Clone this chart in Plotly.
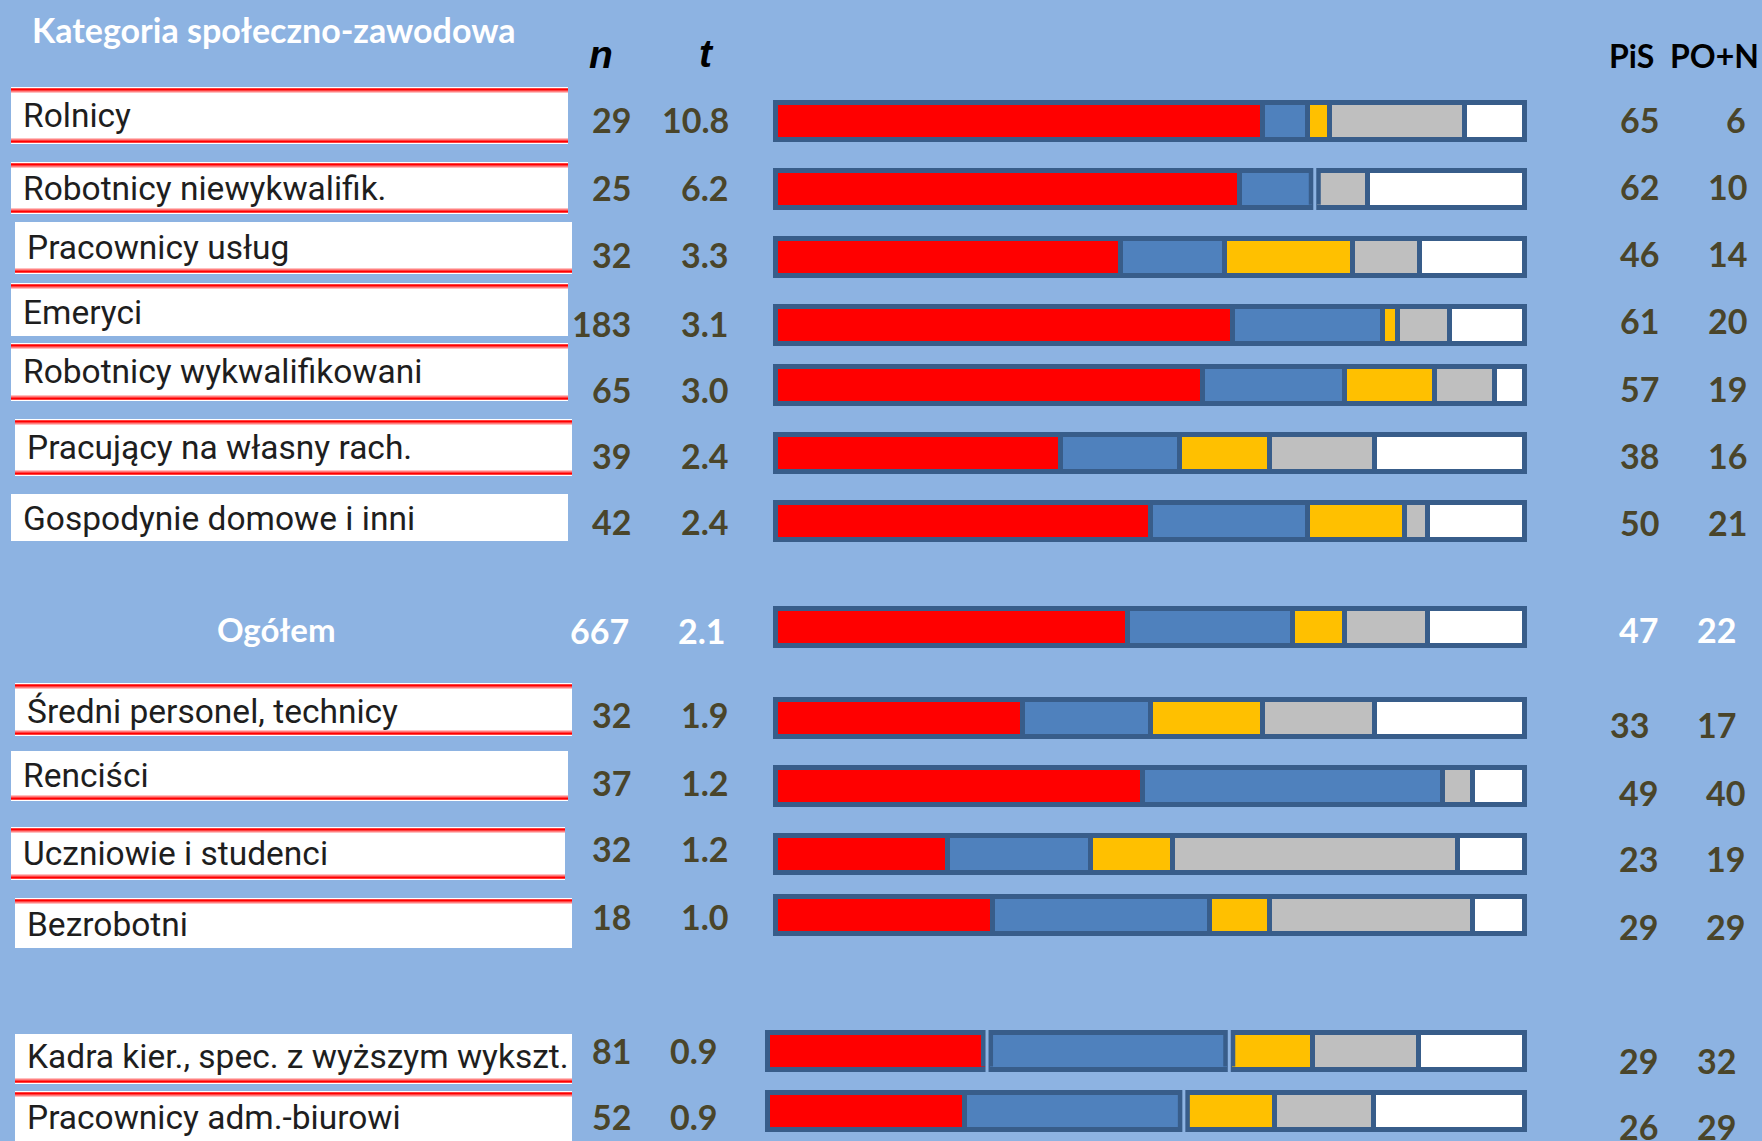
import plotly.graph_objects as go

W, H = 1762, 1141

# ---------------- data ----------------
categories = ["Rolnicy", "Robotnicy niewykwalifik.", "Pracownicy usług", "Emeryci",
              "Robotnicy wykwalifikowani", "Pracujący na własny rach.", "Gospodynie domowe i inni",
              "Ogółem", "Średni personel, technicy", "Renciści", "Uczniowie i studenci",
              "Bezrobotni", "Kadra kier., spec. z wyższym wykszt.", "Pracownicy adm.-biurowi"]
n_vals = [29, 25, 32, 183, 65, 39, 42, 667, 32, 37, 32, 18, 81, 52]
t_vals = ["10.8", "6.2", "3.3", "3.1", "3.0", "2.4", "2.4", "2.1", "1.9", "1.2", "1.2", "1.0", "0.9", "0.9"]
pis = [65, 62, 46, 61, 57, 38, 50, 47, 33, 49, 23, 29, 29, 26]
po_n = [6, 10, 14, 20, 19, 16, 21, 22, 17, 40, 19, 29, 32, 29]
yellow = [3, 0, 17, 2, 12, 12, 13, 7, 15, 0, 11, 8, 11, 12]
grey = [18, 7, 9, 7, 8, 14, 3, 11, 15, 4, 38, 27, 14, 13]
white = [8, 21, 14, 10, 4, 20, 13, 13, 20, 7, 9, 7, 14, 20]
# rows whose bar is split into separate boxes after the given segment (0=red, 1=blue)
split_after = {1: [1], 12: [0, 1], 13: [1]}

title_text = "Kategoria społeczno-zawodowa"
col_headers = ["n", "t", "PiS", "PO+N"]

# ---------------- layout (pixel positions) ----------------
bar_y = [120.5, 188.7, 256.7, 324.7, 385, 453.3, 521.3, 627, 717.8, 785.8, 854, 914.5, 1050.5, 1111]
label_y = [115, 188, 247, 312, 371, 447, 518, None, 711, 775, 853, 924, 1056, 1117]
nt_y = [120.5, 188, 255, 324, 390, 456, 522, 631, 715, 783, 849, 917, 1051, 1117]
t_right = [731, 731, 731, 731, 731, 731, 731, 728, 731, 731, 731, 731, 720, 720]
n_right = [633, 633, 633, 633, 633, 633, 633, 631, 633, 633, 633, 633, 633, 633]
res_y = [120.5, 187.5, 254.5, 321.5, 389, 456, 523, 630, 725, 793, 859, 927, 1061, 1127]
pis_right = [1661, 1661, 1661, 1661, 1661, 1661, 1661, 1660, 1651, 1660, 1660, 1660, 1660, 1660]
pon_right = [1748, 1749, 1749, 1749, 1749, 1749, 1749, 1738, 1738, 1747, 1747, 1747, 1738, 1738]
# label boxes: x0, x1, y0, y1, top red line, bottom red line
boxes = [(11, 568, 87, 144, True, True), (11, 568, 162, 214, True, True),
         (15, 572, 222, 274, False, True), (11, 568, 283, 336, True, False),
         (11, 568, 343, 401, True, True), (15, 572, 419, 476, True, True),
         (11, 568, 494, 541, False, False), None,
         (15, 572, 683, 736, True, True), (11, 568, 751, 801, False, True),
         (11, 565, 827, 880, True, True), (15, 572, 898, 948, True, False),
         (15, 572, 1034, 1084, False, True), (15, 572, 1091, 1150, True, False)]

BG = "#8DB3E2"
NUMC = "#4A452A"
BORDER = "#385D8A"
LW = 5          # bar outline width
BAR_T = 37      # bar thickness (px)
seg_colors = ["#FF0000", "#4F81BD", "#FFC000", "#BFBFBF", "#FFFFFF"]
series = [pis, po_n, yellow, grey, white]


def axis_for(outer_left, outer_right):
    # outer pixel edges of the bar frame -> axis domain and range with outline fully visible
    x0 = outer_left + LW / 2
    x1 = outer_right - LW / 2
    scale = (x1 - x0) / 100.0
    pad = LW / scale
    d0, d1 = x0 - LW, x1 + LW
    return dict(domain=[d0 / W, d1 / W], range=[-pad, 100 + pad])


ax1 = axis_for(773, 1527)
ax2 = axis_for(765, 1527)

fig = go.Figure()

main_idx = list(range(0, 12))
low_idx = [12, 13]
for s, col in zip(series, seg_colors):
    fig.add_trace(go.Bar(
        x=[s[i] for i in main_idx], y=[bar_y[i] for i in main_idx], orientation="h",
        width=BAR_T, marker=dict(color=col, line=dict(color=BORDER, width=LW)),
        xaxis="x", yaxis="y", showlegend=False, hoverinfo="skip"))
    fig.add_trace(go.Bar(
        x=[s[i] for i in low_idx], y=[bar_y[i] for i in low_idx], orientation="h",
        width=BAR_T, marker=dict(color=col, line=dict(color=BORDER, width=LW)),
        xaxis="x2", yaxis="y", showlegend=False, hoverinfo="skip"))

shapes = []
annotations = []


def px(x):
    return x / W


# split gaps between separate bar boxes
for row, segs in split_after.items():
    xr = "x2" if row in low_idx else "x"
    for sidx in segs:
        pos = sum(series[k][row] for k in range(sidx + 1))
        yc = bar_y[row]
        shapes.append(dict(type="line", xref=xr, yref="y", x0=pos, x1=pos,
                           y0=yc - BAR_T / 2 + LW / 2, y1=yc + BAR_T / 2 - LW / 2,
                           line=dict(color=BORDER, width=12), layer="above"))
        shapes.append(dict(type="line", xref=xr, yref="y", x0=pos, x1=pos,
                           y0=yc - BAR_T / 2 - LW / 2 - 1, y1=yc + BAR_T / 2 + LW / 2 + 1,
                           line=dict(color=BG, width=3), layer="above"))

for i, b in enumerate(boxes):
    if b is None:
        continue
    x0, x1, y0, y1, top, bot = b
    shapes.append(dict(type="rect", xref="paper", yref="y", x0=px(x0), x1=px(x1), y0=y0, y1=y1,
                       fillcolor="white", line=dict(width=0), layer="below"))
    if top:
        shapes.append(dict(type="line", xref="paper", yref="y", x0=px(x0), x1=px(x1), y0=y0 + 2.5, y1=y0 + 2.5,
                           line=dict(color="#FF0000", width=2.5)))
        shapes.append(dict(type="line", xref="paper", yref="y", x0=px(x0), x1=px(x1), y0=y0 + 4.8, y1=y0 + 4.8,
                           line=dict(color="#FF8080", width=1.5)))
    if bot:
        shapes.append(dict(type="line", xref="paper", yref="y", x0=px(x0), x1=px(x1), y0=y1 - 2.5, y1=y1 - 2.5,
                           line=dict(color="#FF0000", width=2.5)))
        shapes.append(dict(type="line", xref="paper", yref="y", x0=px(x0), x1=px(x1), y0=y1 - 4.8, y1=y1 - 4.8,
                           line=dict(color="#FF8080", width=1.5)))

LABEL_FONT = "Roboto, Liberation Sans, sans-serif"
NUM_FONT = "Lato, Open Sans, sans-serif"

for i, cat in enumerate(categories):
    is_total = boxes[i] is None
    if is_total:
        annotations.append(dict(text="<b>%s</b>" % cat, xref="paper", yref="y", x=px(276), y=629,
                                xanchor="center", yanchor="middle", showarrow=False,
                                font=dict(family=NUM_FONT, size=33, color="white")))
    else:
        annotations.append(dict(text=cat, xref="paper", yref="y", x=px(boxes[i][0] + 10), y=label_y[i],
                                xanchor="left", yanchor="middle", showarrow=False,
                                font=dict(family=LABEL_FONT, size=33.5, color="#1E1E1E")))
    c = "white" if is_total else NUMC
    annotations.append(dict(text="<b>%d</b>" % n_vals[i], xref="paper", yref="y", x=px(n_right[i]), y=nt_y[i] - 1,
                            xanchor="right", yanchor="middle", showarrow=False,
                            font=dict(family=NUM_FONT, size=34, color=c)))
    annotations.append(dict(text="<b>%s</b>" % t_vals[i], xref="paper", yref="y", x=px(t_right[i]), y=nt_y[i] - 1,
                            xanchor="right", yanchor="middle", showarrow=False,
                            font=dict(family=NUM_FONT, size=34, color=c)))
    annotations.append(dict(text="<b>%d</b>" % pis[i], xref="paper", yref="y", x=px(pis_right[i]), y=res_y[i] - 1,
                            xanchor="right", yanchor="middle", showarrow=False,
                            font=dict(family=NUM_FONT, size=34, color=c)))
    annotations.append(dict(text="<b>%d</b>" % po_n[i], xref="paper", yref="y", x=px(pon_right[i]), y=res_y[i] - 1,
                            xanchor="right", yanchor="middle", showarrow=False,
                            font=dict(family=NUM_FONT, size=34, color=c)))

annotations.append(dict(text="<b>%s</b>" % title_text, xref="paper", yref="y", x=px(30), y=29,
                        xanchor="left", yanchor="middle", showarrow=False,
                        font=dict(family=NUM_FONT, size=34, color="white")))
hdr_x = [601, 706, 1631, 1714]
hdr_y = [54, 53, 55, 55]
for h, hx, hy in zip(col_headers, hdr_x, hdr_y):
    if h in ("n", "t"):
        txt = "<b><i>%s</i></b>" % h
        fam = "Liberation Sans, Arial, sans-serif"
        sz = 39
    else:
        txt = "<b>%s</b>" % h
        fam = NUM_FONT
        sz = 32
    annotations.append(dict(text=txt, xref="paper", yref="y", x=px(hx), y=hy,
                            xanchor="center", yanchor="middle", showarrow=False,
                            font=dict(family=fam, size=sz, color="black")))

fig.update_layout(
    width=W, height=H, margin=dict(l=0, r=0, t=0, b=0),
    paper_bgcolor=BG, plot_bgcolor="rgba(0,0,0,0)", barmode="stack",
    xaxis=dict(**ax1, visible=False, fixedrange=True),
    xaxis2=dict(**ax2, visible=False, anchor="y", fixedrange=True),
    yaxis=dict(domain=[0, 1], range=[H, 0], visible=False, fixedrange=True),
    shapes=shapes, annotations=annotations,
)

fig.write_html("out.html", config={"displayModeBar": False},
               post_script="document.body.style.margin='0';document.body.style.overflow='hidden';")
